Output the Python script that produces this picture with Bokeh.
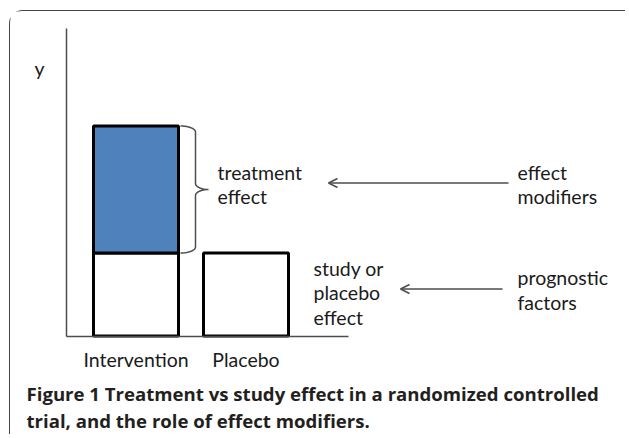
import numpy as np
from bokeh.plotting import figure
from bokeh.models import Range1d, FixedTicker, Arrow, OpenHead, ColumnDataSource
from bokeh.embed import file_html
from bokeh.resources import INLINE
from bokeh.core.properties import value

# ---- data ----
categories = ["Intervention", "Placebo"]
study_effect = [1.0, 1.0]          # study / placebo effect (white boxes)
treatment_effect = [1.53, 0.0]     # treatment effect (blue box, intervention only)
y_label = "y"
treatment_label = "treatment\neffect"
study_label = "study or\nplacebo\neffect"
modifier_label = "effect\nmodifiers"
prognostic_label = "prognostic\nfactors"
caption_line1 = "Figure 1 Treatment vs study effect in a randomized controlled"
caption_line2 = "trial, and the role of effect modifiers."

# ---- layout constants (page pixels) ----
OX, OY = 10.0, 11.5          # canvas origin on the page (after css margin + border)
W, H = 616, 424
PX_X = 110.0                 # pixels per category step
PX_Y = 83.0                  # pixels per y unit
CX0, AXIS_Y = 135.5, 336.0   # page position of category 0 and of y = 0

def dx(px):
    return (px - CX0) / PX_X

def dy(py):
    return (AXIS_Y - py) / PX_Y

FONT = value("Lato")
TXT = "#1a1a1a"
GRAY = "#4d4d4d"

xs = list(range(len(categories)))
bar_w = 85 / PX_X

p = figure(width=W, height=H, output_backend="svg", toolbar_location=None,
           x_range=Range1d(dx(OX), dx(OX + W)), y_range=Range1d(dy(OY + H), dy(OY)),
           min_border=0, outline_line_color=None,
           styles={"margin-left": "8.5px", "margin-top": "10px",
                   "border-top": "1.5px solid #444", "border-left": "1.5px solid #444",
                   "border-top-left-radius": "14px"})
p.grid.visible = False

# axes drawn at fixed data locations
p.yaxis.fixed_location = dx(66)
p.yaxis.bounds = (0, dy(28))
p.yaxis.ticker = FixedTicker(ticks=[])
p.yaxis.axis_line_color = GRAY
p.yaxis.axis_line_width = 1.5
p.yaxis.major_tick_line_color = None
p.yaxis.minor_tick_line_color = None
p.yaxis.major_label_text_font_size = "0px"

p.xaxis.fixed_location = 0
p.xaxis.bounds = (dx(66), dx(348))
p.xaxis.ticker = FixedTicker(ticks=xs)
p.xaxis.major_label_overrides = {i: c for i, c in zip(xs, categories)}
p.xaxis.axis_line_color = GRAY
p.xaxis.axis_line_width = 1.5
p.xaxis.major_tick_line_color = None
p.xaxis.minor_tick_line_color = None
p.xaxis.major_label_standoff = 6
p.xaxis.major_label_text_font = "Lato"
p.xaxis.major_label_text_font_size = "19.5px"
p.xaxis.major_label_text_color = TXT

# bars
study_src = ColumnDataSource(dict(x=xs, top=study_effect))
p.vbar(x="x", bottom=0, top="top", width=bar_w, source=study_src,
       fill_color="white", line_color="black", line_width=3)
tx = [x for x, t in zip(xs, treatment_effect) if t > 0]
tb = [s for s, t in zip(study_effect, treatment_effect) if t > 0]
tt = [s + t for s, t in zip(study_effect, treatment_effect) if t > 0]
p.vbar(x=tx, bottom=tb, top=tt, width=bar_w,
       fill_color="#4f81bd", line_color="black", line_width=3)

# curly brace next to the treatment effect
yb, yt = study_effect[0], study_effect[0] + treatment_effect[0]
ym = (yb + yt) / 2
bx0 = xs[0] + bar_w / 2 + 2 / PX_X
bx1 = bx0 + 15 / PX_X
bx2 = bx0 + 28 / PX_X
r = 6 / PX_Y

def arc(cx, cy, a, b, t0, t1, n=12):
    th = np.radians(np.linspace(t0, t1, n))
    return list(cx + a * np.cos(th)), list(cy + b * np.sin(th))

segs = [arc(bx0, yt - r, bx1 - bx0, r, 90, 0),
        arc(bx2, ym + r, bx2 - bx1, r, 180, 270),
        arc(bx2, ym - r, bx2 - bx1, r, 90, 180),
        arc(bx0, yb + r, bx1 - bx0, r, 0, -90)]
bxs, bys = [], []
for sx, sy in segs:
    bxs += sx
    bys += sy
p.line(bxs, bys, line_color=GRAY, line_width=1.5)

# annotation texts
for txt, (px, py) in [(treatment_label, (217, 184.5)),
                      (modifier_label, (517, 184.5)),
                      (study_label, (313, 293)),
                      (prognostic_label, (517, 290))]:
    p.text(x=[dx(px)], y=[dy(py)], text=[txt], text_font=FONT, text_font_size="19.5px",
           text_color=TXT, text_baseline="middle", text_align="left",
           text_line_height=1.08)

# arrows
for (sx, ex, yy) in [(508, 328, 183), (502, 400, 289)]:
    p.add_layout(Arrow(x_start=dx(sx), y_start=dy(yy), x_end=dx(ex), y_end=dy(yy),
                       line_color=GRAY, line_width=1.5,
                       end=OpenHead(size=9, line_color=GRAY, line_width=1.5)))

# y label
p.text(x=[dx(39)], y=[dy(68)], text=[y_label], text_font=FONT, text_font_size="19.5px",
       text_color=TXT, text_baseline="middle", text_align="center")

# caption
for txt, py in [(caption_line1, 393), (caption_line2, 420)]:
    p.text(x=[dx(26)], y=[dy(py)], text=[txt], text_font=value("Open Sans"),
           text_font_size="18.6px", text_font_style="bold", text_color="#231f20",
           text_baseline="middle", text_align="left")

open("out.html", "w").write(file_html(p, INLINE))
